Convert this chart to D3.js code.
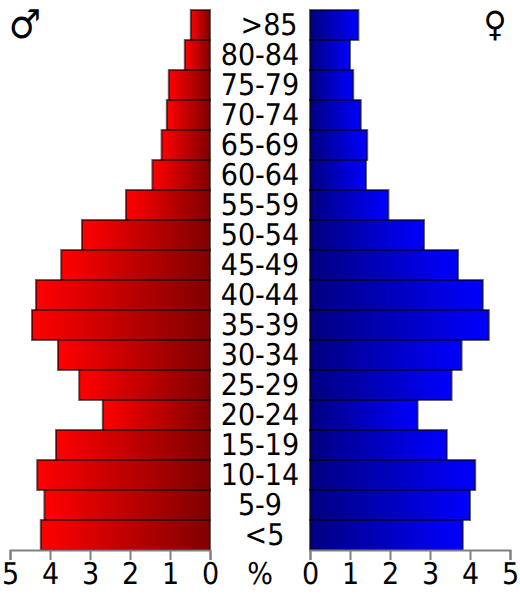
<!DOCTYPE html>
<html>

<head>
    <meta charset="utf-8">
    <style>
        html, body {
            margin: 0;
            padding: 0;
            background: #fff;
        }

        svg {
            display: block;
            font-family: 'DejaVu Sans Condensed', 'DejaVu Sans', sans-serif;
            font-stretch: condensed;
            text-rendering: geometricPrecision;
        }

        .age, .tick text, .unit {
            font-size: 30px;
            fill: #000;
        }

        .tick line, .domain {
            stroke: #808080;
            stroke-width: 2px;
            fill: none;
        }

        .bar {
            stroke: #000;
            stroke-opacity: 0.6;
            stroke-width: 2px;
        }
    </style>
</head>

<body>
    <svg width="520" height="600"></svg>

    <script src="https://d3js.org/d3.v7.min.js"></script>
    <script>
        let ages = [">85", "80-84", "75-79", "70-74", "65-69", "60-64", "55-59", "50-54", "45-49",
            "40-44", "35-39", "30-34", "25-29", "20-24", "15-19", "10-14", "5-9", "<5"]
        let male = [0.48, 0.63, 1.03, 1.08, 1.21, 1.44, 2.1, 3.2, 3.72,
            4.35, 4.45, 3.8, 3.27, 2.68, 3.85, 4.32, 4.14, 4.23]
        let female = [1.21, 1.0, 1.08, 1.27, 1.43, 1.4, 1.96, 2.85, 3.7,
            4.32, 4.47, 3.79, 3.54, 2.69, 3.42, 4.13, 4.0, 3.82]
        let ticks = [0, 1, 2, 3, 4, 5]

        let svg = d3.select("svg")

        let y = d3.scaleBand().domain(ages).range([10, 550])
        let xMale = d3.scaleLinear().domain([0, 5]).range([210, 10])
        let xFemale = d3.scaleLinear().domain([0, 5]).range([310, 510])

        let defs = svg.append("defs")

        function gradient(id, from, to) {
            let g = defs.append("linearGradient").attr("id", id)
            g.append("stop").attr("offset", 0).attr("stop-color", from)
            g.append("stop").attr("offset", 1).attr("stop-color", to)
        }
        gradient("red", "#ff0000", "#800000")
        gradient("blue", "#000080", "#0000ff")

        // male side grows to the left, female to the right
        svg.append("g")
            .selectAll("rect")
            .data(male)
            .join("rect")
            .attr("class", "bar")
            .attr("x", d => xMale(d))
            .attr("y", (d, i) => y(ages[i]))
            .attr("width", d => xMale(0) - xMale(d))
            .attr("height", y.bandwidth())
            .attr("fill", "url(#red)")

        svg.append("g")
            .selectAll("rect")
            .data(female)
            .join("rect")
            .attr("class", "bar")
            .attr("x", xFemale(0))
            .attr("y", (d, i) => y(ages[i]))
            .attr("width", d => xFemale(d) - xFemale(0))
            .attr("height", y.bandwidth())
            .attr("fill", "url(#blue)")

        // the two open-ended labels sit right of the centre line
        function labelX(d) {
            if (d[0] == ">") return 269
            if (d[0] == "<") return 264.5
            return 260
        }

        svg.append("g")
            .selectAll("text")
            .data(ages)
            .join("text")
            .attr("class", "age")
            .attr("text-anchor", "middle")
            .attr("x", labelX)
            .attr("y", d => y(d) + 25)
            .text(d => d)

        // axes, drawn under the labels with d3's own ticks
        function axis(scale) {
            let g = svg.append("g")
                .attr("transform", "translate(0,550)")
                .call(d3.axisBottom(scale).tickValues(ticks).tickFormat(d3.format("d")).tickSize(10))
                .attr("font-size", null)
                .attr("font-family", null)
            g.selectAll(".tick text").attr("y", 34).attr("dy", null)
        }
        axis(xMale)
        axis(xFemale)

        svg.append("text")
            .attr("class", "unit")
            .attr("text-anchor", "middle")
            .attr("x", 260)
            .attr("y", 584)
            .text("%")

        svg.append("text")
            .attr("x", 25).attr("y", 38)
            .attr("text-anchor", "middle")
            .attr("font-size", 40)
            .text("♂")

        svg.append("text")
            .attr("x", 495).attr("y", 36)
            .attr("text-anchor", "middle")
            .attr("font-size", 35)
            .text("♀")
    </script>
</body>

</html>
